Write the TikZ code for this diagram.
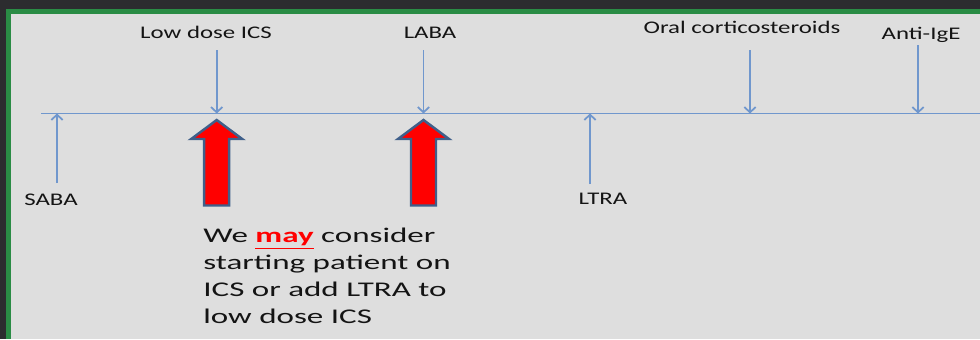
\documentclass[tikz,border=0pt]{standalone}
\usepackage{fontspec}
\usepackage{xcolor}
\usetikzlibrary{arrows.meta}
\setmainfont{Carlito}
\newfontfamily\labelfont{Carlito}[FakeStretch=1.4]
\newfontfamily\notefont{Carlito}[FakeStretch=1.58]

\definecolor{darkbg}{RGB}{44,44,47}
\definecolor{framegreen}{RGB}{42,140,69}
\definecolor{slidebg}{RGB}{222,222,222}
\definecolor{lineblue}{RGB}{112,151,205}
\definecolor{edgeblue}{RGB}{63,95,138}
\definecolor{inkgray}{RGB}{20,20,20}

\begin{document}
\begin{tikzpicture}[x=0.02cm, y=-0.02cm,
    every node/.style={inner sep=0pt, text=inkgray},
    drug/.style={font=\labelfont\fontsize{10.1}{12}\selectfont, anchor=base},
    tick/.style={draw=lineblue, line width=1pt, -{Straight Barb[length=3pt, width=6.5pt]}},
    bigarrow/.style={fill=red, draw=edgeblue, line width=1.4pt, line join=miter}]
    \useasboundingbox (0,0) rectangle (980,339);
    \fill[darkbg] (0,0) rectangle (980,339);
    \fill[framegreen] (6,9) rectangle (980,339);
    \fill[slidebg] (11,14) rectangle (980,339);

    \coordinate (start) at (41,113.5);
    \coordinate (end) at (980,113.5);
    \draw[draw=lineblue, line width=1.1pt] (start) -- (end);

    \node[drug] (lowics) at (206,38) {Low dose ICS};
    \node[drug] (laba) at (430,38) {LABA};
    \node[drug] (ocs) at (742,33) {Oral corticosteroids};
    \node[drug] (antiige) at (921,39) {Anti-IgE};
    \node[drug] (saba) at (51,205) {SABA};
    \node[drug] (ltra) at (603,204) {LTRA};

    \coordinate (lowicstop) at (216.7,50);
    \coordinate (lowicsline) at (216.7,113.5);
    \coordinate (labatop) at (423.5,50);
    \coordinate (labaline) at (423.5,113.5);
    \coordinate (ocstop) at (750,50);
    \coordinate (ocsline) at (750,113.5);
    \coordinate (antiigetop) at (918,45);
    \coordinate (antiigeline) at (918,113.5);
    \coordinate (sababot) at (57,183);
    \coordinate (sabaline) at (57,113.5);
    \coordinate (ltrabot) at (590,184);
    \coordinate (ltraline) at (590,113.5);

    \draw[tick] (lowicstop) -- (lowicsline);
    \draw[tick] (labatop) -- (labaline);
    \draw[tick] (ocstop) -- (ocsline);
    \draw[tick] (antiigetop) -- (antiigeline);
    \draw[tick] (sababot) -- (sabaline);
    \draw[tick] (ltrabot) -- (ltraline);

    % big red arrows
    \foreach \x in {216.7,423.5}
      \draw[bigarrow] (\x,120) -- (\x+25.5,139) -- (\x+12.5,139) -- (\x+12.5,205.5)
        -- (\x-12.5,205.5) -- (\x-12.5,139) -- (\x-25.5,139) -- cycle;

    \node[anchor=north west, align=left, font=\notefont\fontsize{11.9}{15.3}\selectfont] (note) at (203,228)
      {We {\color{red}\bfseries\underline{may}} consider\\
       starting patient on\\
       ICS or add LTRA to\\
       low dose ICS};
\end{tikzpicture}
\end{document}
